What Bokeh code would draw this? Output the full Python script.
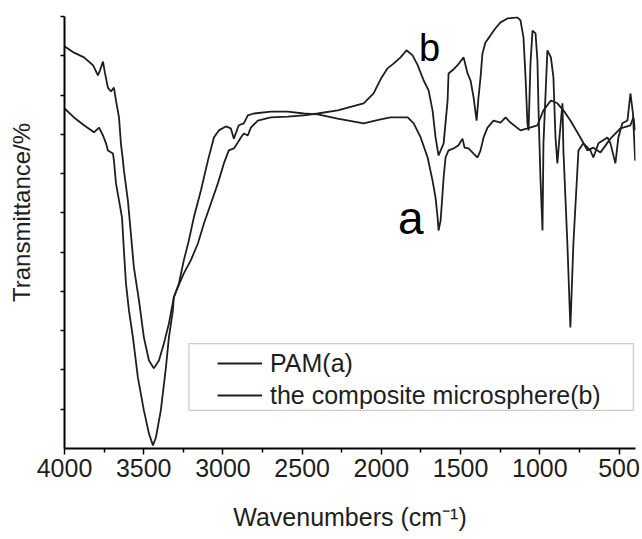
from bokeh.plotting import figure
from bokeh.models import Range1d, FixedTicker, Legend, LegendItem, Label, BoxAnnotation
from bokeh.embed import file_html
from bokeh.resources import INLINE

# PAM (a)
a_wn = [4000, 3940, 3877, 3814, 3782, 3757, 3738, 3726, 3694, 3688, 3675, 3656, 3637, 3625,
        3612, 3593, 3568, 3537, 3499, 3467, 3442, 3423, 3392, 3360, 3341, 3316, 3310, 3278,
        3247, 3215, 3184, 3139, 3095, 3057, 3026, 2982, 2950, 2931, 2900, 2868, 2843, 2805,
        2698, 2591, 2490, 2402, 2276, 2112, 2005, 1942, 1879, 1834, 1796, 1752, 1708, 1677,
        1658, 1645, 1639, 1626, 1607, 1595, 1576, 1544, 1513, 1488, 1475, 1450, 1418, 1393,
        1374, 1355, 1330, 1292, 1248, 1216, 1185, 1122, 1078, 1015, 977, 930, 889, 851, 807,
        744, 700, 662, 617, 554, 491, 428, 409, 398]
a_t = [86.6, 84.3, 82.3, 80.5, 81.7, 79.7, 77.7, 75.9, 75.1, 73.3, 67.5, 63.2, 58.8, 50.4,
       42.0, 35.1, 28.3, 18.1, 9.7, 3.8, 0.8, 2.8, 9.7, 20.6, 28.3, 35.1, 38.5, 42.0,
       47.9, 53.0, 58.8, 65.7, 73.3, 79.2, 81.0, 82.0, 81.5, 78.9, 82.3, 82.8, 84.8, 85.3,
       85.8, 85.8, 85.3, 85.1, 84.0, 82.8, 83.8, 84.3, 84.3, 84.3, 82.8, 79.2, 74.1, 68.2,
       63.9, 58.8, 55.5, 58.1, 69.0, 74.1, 75.9, 76.4, 77.2, 78.9, 76.6, 76.4, 75.1, 74.1,
       75.9, 79.2, 81.7, 83.5, 83.0, 84.3, 83.0, 81.0, 81.5, 82.3, 86.1, 88.6, 87.9, 86.1, 83.5,
       79.2, 75.9, 76.6, 75.4, 78.9, 81.5, 82.3, 84.3, 81.0]

# the composite microsphere (b)
b_wn = [4000, 3940, 3877, 3820, 3789, 3776, 3757, 3745, 3726, 3707, 3688, 3675, 3656, 3644,
        3631, 3625, 3600, 3581, 3562, 3530, 3499, 3467, 3436, 3404, 3373, 3341, 3310, 3285,
        3247, 3203, 3158, 3120, 3076, 3032, 2994, 2963, 2931, 2906, 2887, 2868, 2843, 2824,
        2780, 2698, 2591, 2490, 2402, 2276, 2112, 2049, 2005, 1961, 1923, 1879, 1841, 1803,
        1771, 1733, 1702, 1677, 1658, 1639, 1607, 1582, 1576, 1551, 1519, 1481, 1456, 1437,
        1418, 1399, 1387, 1374, 1362, 1343, 1311, 1280, 1248, 1204, 1141, 1122, 1103, 1090,
        1078, 1071, 1059, 1046, 1027, 1015, 1008, 996, 983, 977, 952, 930, 914, 901, 889, 876,
        857, 851, 826, 807, 788, 756, 725, 681, 662, 630, 573, 554, 523, 504, 479, 447, 428,
        412, 398]
b_t = [102.4, 100.8, 99.6, 97.6, 95.0, 96.3, 98.5, 95.7, 91.9, 90.9, 91.9, 88.6, 84.3, 77.7,
       73.3, 70.8, 63.2, 54.7, 46.1, 37.7, 28.3, 22.4, 20.4, 22.4, 26.7, 31.8, 38.5, 41.0,
       44.6, 47.9, 52.2, 57.3, 62.4, 67.5, 72.6, 75.9, 76.4, 77.9, 79.2, 80.2, 79.7, 81.7,
       83.5, 84.3, 84.5, 84.8, 85.3, 86.1, 87.9, 90.4, 94.0, 96.8, 98.0, 99.6, 101.4, 100.1,
       97.6, 93.7, 91.2, 86.1, 79.2, 74.6, 77.7, 88.6, 95.5, 96.3, 97.6, 99.6, 95.5, 93.7,
       89.4, 83.5, 89.4, 94.5, 100.6, 103.4, 105.2, 107.0, 108.5, 109.5, 109.8, 109.0, 104.7, 94.5,
       82.8, 81.0, 98.0, 106.4, 105.7, 98.8, 86.1, 69.0, 55.5, 77.7, 101.4, 99.6, 94.5, 79.2, 72.6, 79.2,
       87.9, 75.9, 52.2, 30.8, 52.2, 75.9, 77.7, 75.9, 74.1, 77.7, 79.2, 77.7, 72.6, 79.2, 82.8, 83.5, 90.4,
       85.3, 73.3]

x_major = [4000, 3500, 3000, 2500, 2000, 1500, 1000, 500]
x_minor = [3750, 3250, 2750, 2250, 1750, 1250, 750]
y_ticks = [10, 20, 30, 40, 50, 60, 70, 80, 90, 100, 110]
legend_labels = ["PAM(a)", "the composite microsphere(b)"]
x_title = "Wavenumbers (cm\u207b\u00b9)"
y_title = "Transmittance/%"

FONT = "Liberation Sans"
INK = "#1e1e1e"

p = figure(width=642, height=539, output_backend="svg", toolbar_location=None,
           x_range=Range1d(4000, 396), y_range=Range1d(0, 110),
           min_border_left=64, min_border_right=7, min_border_top=16, min_border_bottom=91)
p.outline_line_color = None
p.xgrid.visible = False
p.ygrid.visible = False
p.background_fill_color = "white"
p.border_fill_color = "white"

ra = p.line(a_wn, a_t, line_color=INK, line_width=1.8)
rb = p.line(b_wn, b_t, line_color=INK, line_width=1.8)

xa = p.xaxis[0]
xa.ticker = FixedTicker(ticks=x_major, minor_ticks=x_minor)
xa.axis_line_width = 2
xa.axis_line_color = "black"
xa.major_tick_line_width = 1.5
xa.minor_tick_line_width = 1.5
xa.major_tick_out = 6
xa.major_tick_in = 0
xa.minor_tick_out = 4
xa.minor_tick_in = 0
xa.major_label_text_font = FONT
xa.major_label_text_font_size = "25px"
xa.major_label_text_color = INK
xa.major_label_standoff = 4
xa.axis_label = x_title
xa.axis_label_text_font = FONT
xa.axis_label_text_font_size = "25px"
xa.axis_label_text_font_style = "normal"
xa.axis_label_text_color = INK
xa.axis_label_standoff = 23

ya = p.yaxis[0]
ya.ticker = FixedTicker(ticks=[], minor_ticks=y_ticks)
ya.axis_line_width = 2
ya.axis_line_color = "black"
ya.minor_tick_line_width = 1.5
ya.minor_tick_out = 4
ya.minor_tick_in = 0
ya.major_tick_out = 4
ya.major_label_standoff = 0
# leading no-break spaces lift the title so it sits a little above the frame centre
ya.axis_label = "\u00a0" * 6 + y_title
ya.axis_label_text_font = FONT
ya.axis_label_text_font_size = "24px"
ya.axis_label_text_font_style = "normal"
ya.axis_label_text_color = INK
ya.axis_label_standoff = 26

# curve tags
p.add_layout(Label(x=1696, y=101.9, text="b", text_align="center", text_baseline="alphabetic",
                   text_font=FONT, text_font_size="38px", text_color="black"))
p.add_layout(Label(x=1815, y=58.8, text="a", text_align="center", text_baseline="alphabetic",
                   text_font=FONT, text_font_size="46px", text_color="black"))

# legend frame and legend
p.add_layout(BoxAnnotation(left=3215, right=409, top=26.7, bottom=9.7,
                           fill_alpha=0, line_color="#555555", line_width=1.3))
legend = Legend(items=[LegendItem(label=legend_labels[0], renderers=[ra]),
                       LegendItem(label=legend_labels[1], renderers=[rb])],
                location=(153, 38), border_line_color=None, background_fill_alpha=0,
                padding=0, margin=0, spacing=2, glyph_width=45, glyph_height=30,
                label_height=30, label_standoff=8, label_text_font=FONT,
                label_text_font_size="25px", label_text_color=INK)
p.add_layout(legend)

open("out.html", "w").write(file_html(p, INLINE))
